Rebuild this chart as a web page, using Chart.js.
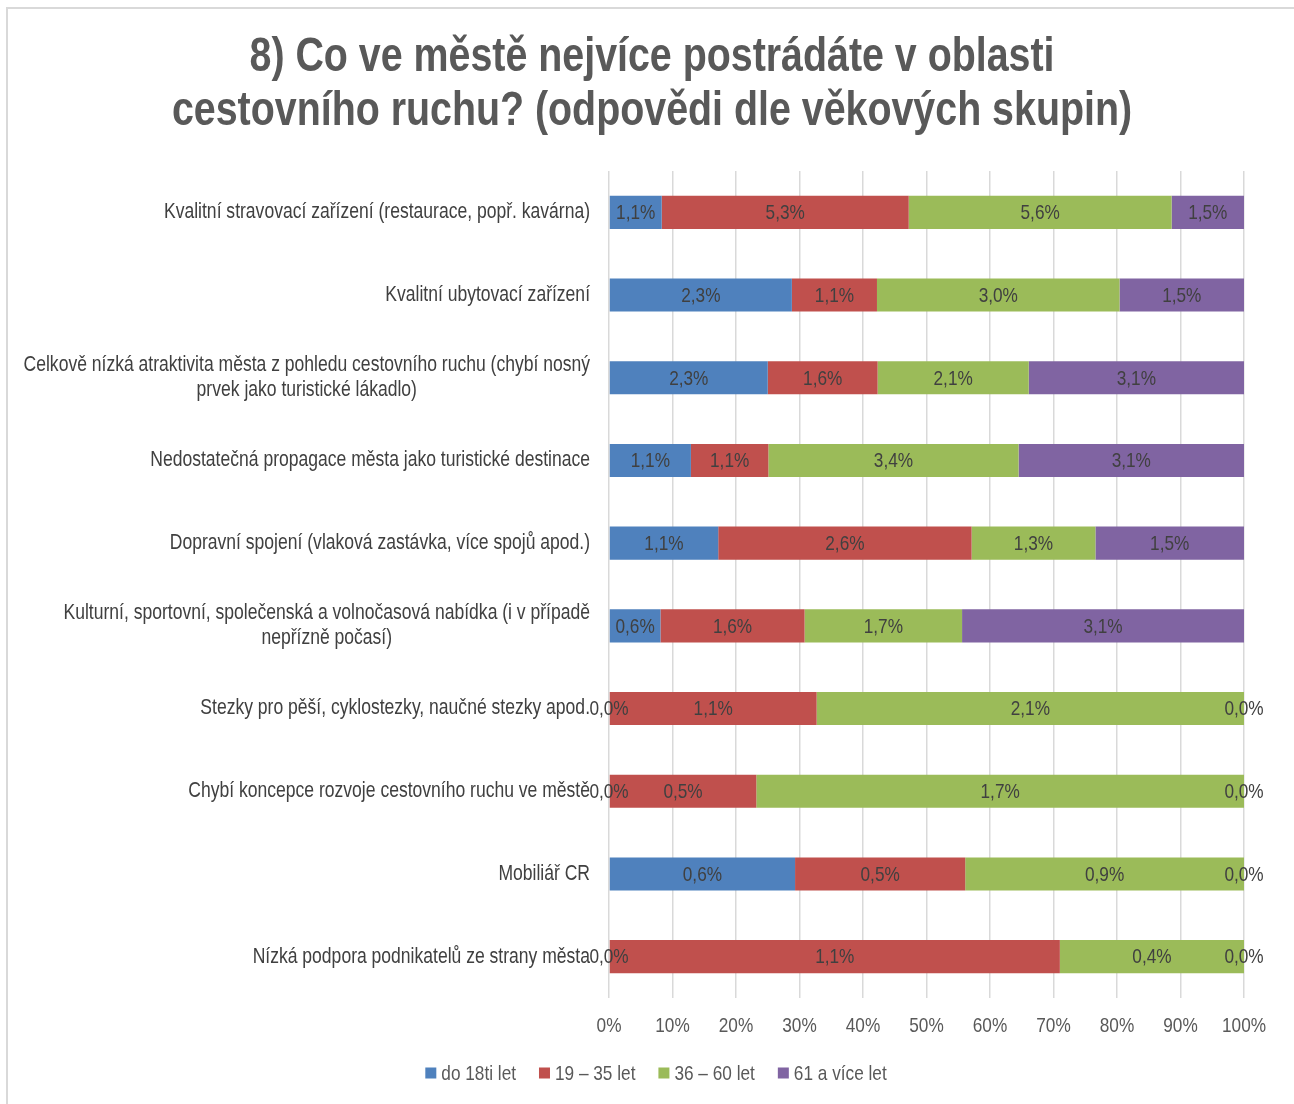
<!DOCTYPE html>
<html lang="cs">
<head>
<meta charset="utf-8">
<title>Co ve městě nejvíce postrádáte v oblasti cestovního ruchu</title>
<script src="https://cdn.jsdelivr.net/npm/chart.js@4.4.1/dist/chart.umd.min.js"></script>
<style>
  html, body { margin: 0; padding: 0; background: #fff; }
  #wrap { position: relative; width: 1294px; height: 1104px; overflow: hidden; }
  #frame { position: absolute; left: 6px; top: 7px; right: -10px; bottom: -10px;
           border-left: 2px solid #d9d9d9; border-top: 2px solid #d9d9d9; }
  #chart { position: absolute; left: 0; top: 0; }
</style>
</head>
<body>
<div id="wrap">
  <div id="frame"></div>
  <canvas id="chart" width="1294" height="1104"></canvas>
</div>
<script>
// kategorie (odpovědi)
const categories = [
  ["Kvalitní stravovací zařízení (restaurace, popř. kavárna)"],
  ["Kvalitní ubytovací zařízení"],
  ["Celkově nízká atraktivita města z pohledu cestovního ruchu (chybí nosný", "prvek jako turistické lákadlo)"],
  ["Nedostatečná propagace města jako turistické destinace"],
  ["Dopravní spojení (vlaková zastávka, více spojů apod.)"],
  ["Kulturní, sportovní, společenská a volnočasová nabídka (i v případě", "nepřízně počasí)"],
  ["Stezky pro pěší, cyklostezky, naučné stezky apod."],
  ["Chybí koncepce rozvoje cestovního ruchu ve městě"],
  ["Mobiliář CR"],
  ["Nízká podpora podnikatelů ze strany města"]
];

const titleLines = ["8) Co ve městě nejvíce postrádáte v oblasti", "cestovního ruchu? (odpovědi dle věkových skupin)"];
const seriesNames = ["do 18ti let", "19 – 35 let", "36 – 60 let", "61 a více let"];
const seriesColors = ["#4f81bd", "#c0504d", "#9bbb59", "#8064a2"];

// podíl v řádku (%), odečteno z délky úseků
const share18 = [8.3, 28.8, 25.0, 12.9, 17.2, 8.1, 0, 0, 29.3, 0];
const share35 = [38.9, 13.4, 17.3, 12.2, 39.9, 22.7, 32.7, 23.2, 26.8, 71.0];
const share60 = [41.4, 38.2, 23.8, 39.4, 19.5, 24.8, 67.3, 76.8, 43.9, 29.0];
const share61 = [11.4, 19.6, 33.9, 35.5, 23.4, 44.4, 0, 0, 0, 0];

// popisky hodnot (% ze všech respondentů)
const label18 = [1.1, 2.3, 2.3, 1.1, 1.1, 0.6, 0.0, 0.0, 0.6, 0.0];
const label35 = [5.3, 1.1, 1.6, 1.1, 2.6, 1.6, 1.1, 0.5, 0.5, 1.1];
const label60 = [5.6, 3.0, 2.1, 3.4, 1.3, 1.7, 2.1, 1.7, 0.9, 0.4];
const label61 = [1.5, 1.5, 3.1, 3.1, 1.5, 3.1, 0.0, 0.0, 0.0, 0.0];

const xTicks = [0, 10, 20, 30, 40, 50, 60, 70, 80, 90, 100];

const FONT = '"Liberation Sans", Arial, sans-serif';
const NARROW = 0.82; // Arial Narrow = Arial stlačený na 82 %
const shares = [share18, share35, share60, share61];
const valueLabels = [label18, label35, label60, label61];

const fmt = v => v.toFixed(1).replace(".", ",") + "%";

function narrowText(ctx, text, x, y, align) {
  ctx.save();
  ctx.translate(x, y);
  ctx.scale(NARROW, 1);
  ctx.textAlign = align;
  ctx.fillText(text, 0, 0);
  ctx.restore();
}
const narrowWidth = (ctx, text) => ctx.measureText(text).width * NARROW;

// všechny texty úzkým písmem
const narrowTexts = {
  id: "narrowTexts",
  afterDatasetsDraw(chart) {
    const ctx = chart.ctx;
    ctx.save();
    ctx.textBaseline = "middle";

    // hodnoty v úsecích
    ctx.font = "21px " + FONT;
    ctx.fillStyle = "#404040";
    chart.data.datasets.forEach((ds, di) => {
      chart.getDatasetMeta(di).data.forEach((bar, i) => {
        const p = bar.getCenterPoint();
        narrowText(ctx, fmt(valueLabels[di][i]), p.x, p.y + 1, "center");
      });
    });
    ctx.restore();
  },
  afterDraw(chart) {
    const ctx = chart.ctx;
    const xs = chart.scales.x, ys = chart.scales.y;
    ctx.save();
    ctx.textBaseline = "middle";

    // titulek
    ctx.font = "bold 48px " + FONT;
    ctx.fillStyle = "#595959";
    titleLines.forEach((l, k) => narrowText(ctx, l, 652, 58 + k * 54, "center"));

    // kategorie: blok zarovnaný vpravo, řádky centrované
    ctx.font = "21.4px " + FONT;
    ctx.fillStyle = "#404040";
    categories.forEach((lines, i) => {
      const cy = ys.getPixelForValue(i);
      const w = Math.max(...lines.map(l => narrowWidth(ctx, l)));
      const y0 = cy - (lines.length - 1) * 25 / 2;
      lines.forEach((l, k) => narrowText(ctx, l, 590 - w / 2, y0 + k * 25, "center"));
    });

    // popisky osy x
    ctx.font = "21px " + FONT;
    ctx.fillStyle = "#595959";
    xTicks.forEach(v => narrowText(ctx, v + "%", xs.getPixelForValue(v), xs.top + 28, "center"));

    // legenda
    const box = 11, gapIn = 5, gapOut = 23;
    const widths = seriesNames.map(n => box + gapIn + narrowWidth(ctx, n));
    const total = widths.reduce((a, b) => a + b, 0) + gapOut * (widths.length - 1);
    let lx = 656 - total / 2;
    const ly = 1074;
    seriesNames.forEach((n, i) => {
      ctx.fillStyle = seriesColors[i];
      ctx.fillRect(lx, ly - box / 2 - 1, box, box);
      ctx.fillStyle = "#595959";
      narrowText(ctx, n, lx + box + gapIn, ly, "left");
      lx += widths[i] + gapOut;
    });
    ctx.restore();
  }
};

new Chart(document.getElementById("chart"), {
  type: "bar",
  data: {
    labels: categories.map(c => c.join(" ")),
    datasets: seriesNames.map((name, i) => ({
      label: name,
      data: shares[i],
      backgroundColor: seriesColors[i],
      borderWidth: 0,
      categoryPercentage: 1,
      barPercentage: 0.4
    }))
  },
  options: {
    indexAxis: "y",
    responsive: false,
    animation: false,
    layout: { padding: { top: 171, left: 0, right: 50, bottom: 52 } },
    scales: {
      x: {
        stacked: true,
        min: 0,
        max: 100,
        afterBuildTicks(scale) { scale.ticks = xTicks.map(v => ({ value: v })); },
        afterFit(scale) { scale.height = 54; },
        grid: { color: "#d9d9d9", lineWidth: 1.5, drawTicks: false },
        border: { display: false },
        ticks: { display: false }
      },
      y: {
        stacked: true,
        afterFit(scale) { scale.width = 609; },
        grid: { display: false },
        border: { display: false },
        ticks: { display: false }
      }
    },
    plugins: {
      title: { display: false },
      legend: { display: false },
      tooltip: { enabled: false }
    }
  },
  plugins: [narrowTexts]
});
</script>
</body>
</html>
